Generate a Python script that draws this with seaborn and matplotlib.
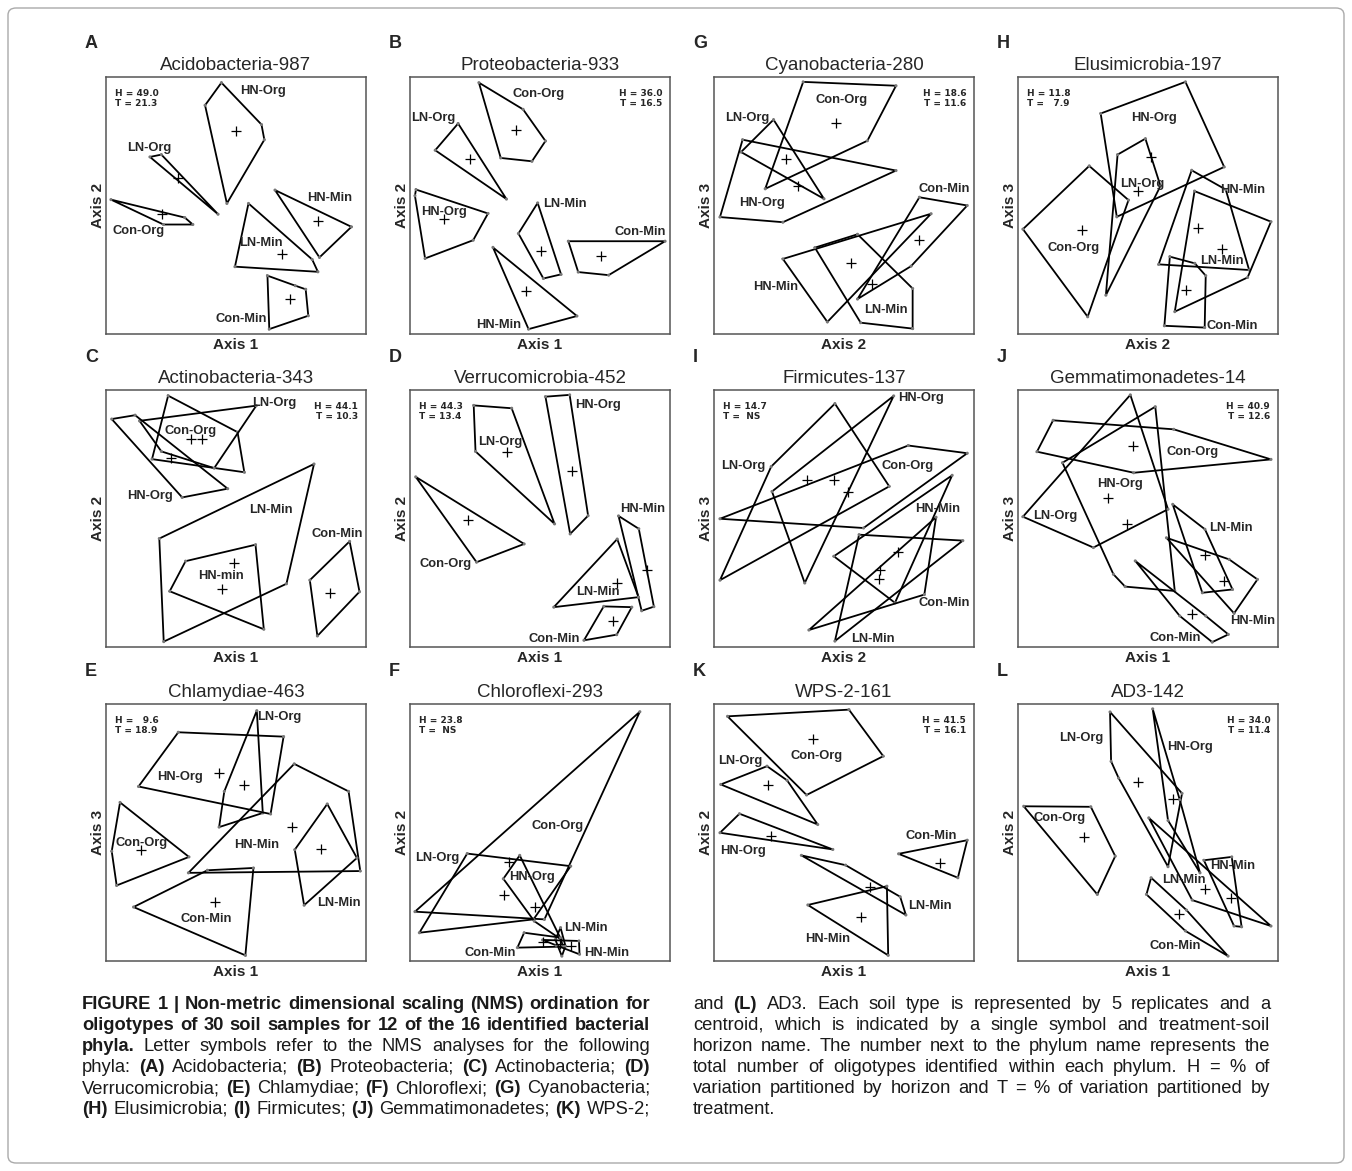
import numpy as np
import pandas as pd
import seaborn as sns
import matplotlib.pyplot as plt
from matplotlib.patches import Polygon, FancyBboxPatch

# NMS ordination hulls per treatment-soil horizon (scores rescaled to 0-100)
A_hulls = {
    "HN-Org": [(44.4, 97.8), (59.8, 81.5), (60.9, 75.6), (46.5, 50.8), (38.1, 89.0)],
    "LN-Org": [(16.9, 68.9), (21.3, 69.8), (43.1, 46.6)],
    "Con-Org": [(1.9, 52.3), (30.3, 45.3), (33.4, 42.6), (22.1, 42.6)],
    "HN-Min": [(65.0, 56.0), (94.4, 41.7), (82.1, 29.8)],
    "LN-Min": [(54.8, 50.8), (79.3, 29.0), (81.5, 24.2), (49.6, 26.2)],
    "Con-Min": [(62.1, 22.7), (72.8, 18.8), (76.8, 17.4), (77.8, 7.1), (62.8, 1.9)],
}
A_cents = [(49.9, 78.9), (27.5, 60.6), (21.5, 46.6), (81.6, 43.9), (67.8, 31.0), (70.6, 13.5)]
A_labels = {"HN-Org": (60.3, 94.4), "LN-Org": (16.5, 72.5), "Con-Org": (12.4, 39.9),
            "HN-Min": (85.9, 53.0), "LN-Min": (59.6, 35.5), "Con-Min": (52.1, 5.7)}

B_hulls = {
    "Con-Org": [(26.5, 97.8), (43.5, 87.4), (52.1, 75.1), (46.9, 67.2), (34.9, 68.5)],
    "LN-Org": [(18.5, 81.9), (9.7, 71.5), (37.1, 52.5)],
    "HN-Org": [(2.3, 56.2), (1.9, 53.8), (5.8, 29.4), (24.3, 36.5), (30.0, 46.9)],
    "LN-Min": [(49.1, 51.0), (41.7, 39.1), (51.3, 21.6), (58.1, 23.2)],
    "Con-Min": [(60.9, 36.1), (98.1, 36.1), (76.4, 22.9), (64.7, 24.1)],
    "HN-Min": [(31.9, 33.7), (64.2, 7.0), (45.6, 1.9)],
}
B_cents = [(40.6, 79.3), (23.0, 67.9), (12.9, 44.6), (50.4, 32.3), (73.4, 30.2), (44.8, 16.7)]
B_labels = {"Con-Org": (49.5, 93.3), "LN-Org": (9.0, 84.2), "HN-Org": (12.9, 47.5),
            "LN-Min": (59.4, 50.5), "Con-Min": (88.4, 39.6), "HN-Min": (34.2, 3.5)}

G_hulls = {
    "Con-Org": [(34.3, 98.1), (70.0, 96.6), (59.0, 75.2), (19.7, 56.5)],
    "LN-Org": [(22.9, 83.4), (10.4, 70.8), (42.3, 52.6)],
    "HN-Org": [(11.0, 75.6), (70.0, 63.6), (26.5, 43.5), (2.3, 45.5)],
    "Con-Min": [(79.0, 53.2), (97.4, 50.0), (75.8, 26.4), (55.2, 13.6)],
    "HN-Min": [(26.5, 29.2), (83.5, 46.8), (43.6, 4.7)],
    "LN-Min": [(38.8, 33.6), (55.2, 38.8), (76.4, 17.7), (76.4, 2.1), (56.4, 4.4)],
}
G_cents = [(46.8, 82.2), (27.7, 68.2), (32.3, 57.7), (78.7, 36.4), (52.8, 27.5), (60.7, 19.5)]
G_labels = {"Con-Org": (49.0, 90.9), "LN-Org": (12.6, 84.2), "HN-Org": (18.4, 50.9),
            "Con-Min": (88.7, 56.5), "HN-Min": (23.6, 18.4), "LN-Min": (66.1, 9.4)}

H_hulls = {
    "HN-Org": [(31.8, 85.8), (64.4, 98.1), (79.3, 65.0), (38.0, 45.6)],
    "LN-Org": [(38.3, 69.8), (49.0, 76.0), (54.8, 57.6), (33.8, 15.1)],
    "Con-Org": [(27.4, 65.4), (42.5, 52.1), (26.8, 6.7), (1.9, 40.8)],
    "HN-Min": [(66.8, 63.7), (79.9, 56.2), (88.9, 24.9), (54.1, 27.1)],
    "LN-Min": [(67.9, 55.6), (97.3, 43.7), (88.3, 22.0), (60.3, 8.7)],
    "Con-Min": [(58.4, 30.1), (68.0, 27.5), (72.2, 22.7), (71.8, 2.5), (56.3, 3.2)],
}
H_cents = [(51.3, 68.9), (46.1, 55.6), (24.7, 40.4), (69.2, 41.3), (78.4, 33.0), (64.8, 17.1)]
H_labels = {"HN-Org": (52.2, 84.2), "LN-Org": (47.7, 58.5), "Con-Org": (21.3, 33.3),
            "HN-Min": (86.5, 56.2), "LN-Min": (78.4, 28.5), "Con-Min": (82.5, 3.1)}

C_hulls = {
    "Con-Org": [(23.9, 97.8), (50.6, 83.6), (53.2, 68.0), (17.7, 73.1)],
    "LN-Org": [(12.9, 88.0), (57.8, 93.9), (41.6, 69.6), (21.3, 76.1)],
    "HN-Org": [(2.2, 88.7), (11.2, 90.2), (46.8, 61.6), (29.3, 58.2)],
    "LN-Min": [(80.0, 71.2), (69.4, 24.6), (22.2, 2.1), (20.5, 42.2)],
    "HN-min": [(30.6, 33.4), (57.5, 39.8), (60.7, 6.9), (24.5, 21.7)],
    "Con-Min": [(93.7, 41.1), (97.5, 21.5), (81.3, 4.3), (78.4, 26.0)],
}
C_cents = [(32.6, 80.9), (37.1, 80.9), (25.1, 73.5), (49.4, 32.5), (44.8, 22.6), (86.2, 21.1)]
C_labels = {"Con-Org": (32.6, 84.1), "LN-Org": (64.6, 95.0), "HN-Org": (17.1, 58.6),
            "LN-Min": (63.3, 53.3), "HN-min": (44.2, 27.8), "Con-Min": (88.8, 44.1)}

D_hulls = {
    "LN-Org": [(24.5, 94.0), (39.1, 92.9), (55.6, 47.9), (25.2, 76.1)],
    "HN-Org": [(52.1, 97.4), (61.4, 98.1), (68.5, 51.1), (61.6, 44.0)],
    "Con-Org": [(2.2, 66.2), (43.9, 40.1), (25.6, 33.0)],
    "HN-Min": [(80.2, 51.0), (88.0, 46.0), (93.8, 15.7), (89.1, 14.1)],
    "LN-Min": [(79.7, 42.0), (87.9, 19.4), (55.3, 15.5)],
    "Con-Min": [(74.5, 15.8), (85.3, 15.5), (79.5, 4.8), (66.9, 2.6)],
}
D_cents = [(37.2, 75.9), (62.3, 68.3), (22.4, 49.4), (91.1, 30.0), (79.5, 24.8), (77.9, 10.3)]
D_labels = {"LN-Org": (34.9, 79.6), "HN-Org": (72.4, 94.0), "Con-Org": (13.6, 32.3),
            "HN-Min": (89.5, 53.7), "LN-Min": (72.4, 21.3), "Con-Min": (55.6, 3.2)}

I_hulls = {
    "LN-Org": [(22.0, 70.2), (46.5, 94.7), (67.4, 62.5), (2.3, 26.0)],
    "HN-Org": [(69.1, 97.7), (22.3, 60.5), (34.9, 24.9)],
    "Con-Org": [(2.3, 49.9), (74.7, 78.4), (97.4, 75.4), (57.5, 46.3)],
    "HN-Min": [(46.1, 35.3), (91.6, 66.8), (69.6, 17.2)],
    "LN-Min": [(55.8, 43.7), (95.7, 41.4), (46.5, 2.3)],
    "Con-Min": [(85.4, 50.5), (80.9, 20.4), (36.5, 6.6)],
}
I_cents = [(35.8, 64.8), (46.1, 64.8), (51.7, 60.5), (70.9, 37.0), (63.8, 30.1), (63.5, 26.5)]
I_labels = {"HN-Org": (79.6, 96.8), "LN-Org": (11.3, 70.6), "Con-Org": (74.5, 70.6),
            "HN-Min": (86.1, 53.7), "Con-Min": (88.7, 17.2), "LN-Min": (61.0, 3.0)}

J_hulls = {
    "Con-Org": [(13.5, 88.2), (59.9, 84.7), (97.3, 73.0), (44.5, 67.8), (7.3, 76.0)],
    "HN-Org": [(17.1, 71.7), (52.8, 93.5), (60.3, 21.8), (41.2, 23.5), (36.7, 28.3)],
    "LN-Org": [(1.9, 50.7), (43.2, 98.1), (57.7, 53.6), (29.0, 38.7)],
    "LN-Min": [(59.5, 55.5), (71.9, 45.8), (82.5, 22.4), (70.9, 21.1)],
    "HN-Min": [(57.1, 42.5), (81.2, 34.1), (92.1, 26.3), (83.1, 13.1)],
    "Con-Min": [(45.1, 33.5), (72.2, 12.1), (80.9, 4.9), (74.7, 1.9), (62.2, 12.1)],
}
J_cents = [(44.2, 78.1), (34.5, 57.8), (41.9, 47.7), (79.3, 25.6), (71.9, 35.7), (67.0, 13.0)]
J_labels = {"Con-Org": (67.0, 76.0), "HN-Org": (39.3, 63.6), "LN-Org": (14.2, 51.0),
            "LN-Min": (81.8, 46.4), "HN-Min": (90.3, 10.0), "Con-Min": (60.6, 3.4)}

E_hulls = {
    "LN-Org": [(58.0, 97.4), (60.3, 57.6), (43.5, 52.1), (45.5, 66.0)],
    "HN-Org": [(27.8, 89.0), (68.3, 87.3), (63.3, 57.2), (12.5, 67.9)],
    "HN-Min": [(72.4, 76.7), (93.3, 66.0), (97.8, 35.0), (31.7, 34.3)],
    "LN-Min": [(85.1, 61.1), (96.5, 40.1), (76.2, 21.7), (72.6, 43.3)],
    "Con-Org": [(5.4, 61.7), (31.9, 40.5), (4.1, 29.4), (2.2, 42.7)],
    "Con-Min": [(10.6, 21.0), (39.0, 35.3), (56.7, 36.2), (53.6, 2.2)],
}
E_cents = [(43.3, 73.0), (53.0, 68.6), (71.7, 52.3), (82.7, 43.5), (13.6, 43.3), (42.0, 23.0)]
E_labels = {"LN-Org": (66.8, 94.8), "HN-Org": (28.4, 71.5), "HN-Min": (57.8, 45.0),
            "LN-Min": (89.4, 22.6), "Con-Org": (13.8, 45.9), "Con-Min": (38.4, 16.4)}

F_hulls = {
    "Con-Org": [(88.4, 97.0), (1.9, 19.2), (51.7, 16.2)],
    "LN-Org": [(22.0, 41.8), (61.8, 36.9), (47.5, 16.2), (3.6, 11.0)],
    "HN-Org": [(42.2, 41.1), (58.1, 8.4), (47.8, 15.5), (35.9, 32.0)],
    "LN-Min": [(57.9, 13.0), (59.8, 5.8), (58.4, 1.9), (55.9, 8.3)],
    "Con-Min": [(43.9, 11.0), (57.9, 9.1), (58.8, 5.6), (41.3, 5.2)],
    "HN-Min": [(51.0, 8.2), (65.0, 7.8), (65.2, 2.6), (56.2, 6.1)],
}
F_cents = [(37.9, 38.5), (36.2, 25.6), (48.2, 21.1), (51.0, 7.5), (57.8, 6.8), (61.8, 5.7)]
F_labels = {"Con-Org": (56.8, 52.5), "LN-Org": (10.3, 39.9), "HN-Org": (47.1, 32.8),
            "LN-Min": (67.8, 13.0), "Con-Min": (31.0, 3.2), "HN-Min": (75.6, 3.0)}

K_hulls = {
    "Con-Org": [(5.2, 95.2), (51.9, 97.8), (65.1, 79.7), (35.6, 64.6)],
    "LN-Org": [(20.4, 75.8), (28.1, 70.3), (39.9, 53.1), (2.6, 68.7)],
    "HN-Org": [(9.8, 57.3), (45.7, 43.4), (2.3, 49.9)],
    "Con-Min": [(71.0, 41.7), (97.4, 47.0), (93.8, 32.4)],
    "LN-Min": [(33.6, 41.1), (50.6, 37.3), (71.6, 25.0), (73.8, 17.9)],
    "HN-Min": [(36.1, 21.8), (66.5, 29.1), (67.0, 2.2)],
}
K_cents = [(38.1, 86.5), (20.6, 68.3), (22.0, 48.8), (87.1, 38.2), (59.9, 28.8), (56.4, 17.1)]
K_labels = {"Con-Org": (39.4, 79.7), "LN-Org": (10.1, 77.7), "HN-Org": (11.3, 42.7),
            "Con-Min": (83.5, 48.7), "LN-Min": (83.2, 21.4), "HN-Min": (43.6, 8.4)}

L_hulls = {
    "LN-Org": [(35.4, 96.9), (63.1, 65.2), (57.7, 36.7), (38.7, 71.2), (35.8, 77.7)],
    "HN-Org": [(51.8, 98.1), (62.2, 62.8), (70.0, 34.3), (57.7, 54.7)],
    "Con-Org": [(2.2, 60.2), (28.0, 60.0), (37.4, 40.8), (30.5, 25.9)],
    "HN-Min": [(71.5, 39.2), (82.2, 40.5), (86.0, 13.3), (83.1, 13.6)],
    "LN-Min": [(50.3, 55.7), (97.3, 13.6), (67.0, 23.7)],
    "Con-Min": [(51.2, 32.4), (64.8, 19.8), (80.8, 1.9), (64.4, 11.7), (49.4, 25.9)],
}
L_cents = [(46.1, 69.7), (59.5, 63.2), (25.5, 48.2), (81.8, 24.6), (71.8, 27.9), (62.1, 18.1)]
L_labels = {"LN-Org": (24.5, 86.9), "HN-Org": (66.3, 83.2), "Con-Org": (16.1, 55.8),
            "HN-Min": (82.5, 36.8), "LN-Min": (63.7, 31.6), "Con-Min": (60.6, 5.8)}

letters = ["A", "B", "G", "H", "C", "D", "I", "J", "E", "F", "K", "L"]
titles = ["Acidobacteria-987", "Proteobacteria-933", "Cyanobacteria-280", "Elusimicrobia-197",
          "Actinobacteria-343", "Verrucomicrobia-452", "Firmicutes-137", "Gemmatimonadetes-14",
          "Chlamydiae-463", "Chloroflexi-293", "WPS-2-161", "AD3-142"]
xlabels = ["Axis 1", "Axis 1", "Axis 2", "Axis 2", "Axis 1", "Axis 1", "Axis 2", "Axis 1",
           "Axis 1", "Axis 1", "Axis 1", "Axis 1"]
ylabels = ["Axis 2", "Axis 2", "Axis 3", "Axis 3", "Axis 2", "Axis 2", "Axis 3", "Axis 3",
           "Axis 3", "Axis 2", "Axis 2", "Axis 2"]
h_vals = ["49.0", "36.0", "18.6", "11.8", "44.1", "44.3", "14.7", "40.9", "  9.6", "23.8", "41.5", "34.0"]
t_vals = ["21.3", "16.5", "11.6", "  7.9", "10.3", "13.4", " NS", "12.6", "18.9", " NS", "16.1", "11.4"]
stat_side = ["left", "right", "right", "left", "right", "left", "left", "right",
             "left", "left", "right", "right"]
hulls = [A_hulls, B_hulls, G_hulls, H_hulls, C_hulls, D_hulls, I_hulls, J_hulls,
         E_hulls, F_hulls, K_hulls, L_hulls]
cents = [A_cents, B_cents, G_cents, H_cents, C_cents, D_cents, I_cents, J_cents,
         E_cents, F_cents, K_cents, L_cents]
labels = [A_labels, B_labels, G_labels, H_labels, C_labels, D_labels, I_labels, J_labels,
          E_labels, F_labels, K_labels, L_labels]

caption_left = [
    [("FIGURE 1 | Non-metric dimensional scaling (NMS) ordination for", True)],
    [("oligotypes of 30 soil samples for 12 of the 16 identified bacterial", True)],
    [("phyla.", True), ("Letter symbols refer to the NMS analyses for the following", False)],
    [("phyla:", False), ("(A)", True), ("Acidobacteria;", False), ("(B)", True), ("Proteobacteria;", False),
     ("(C)", True), ("Actinobacteria;", False), ("(D)", True)],
    [("Verrucomicrobia;", False), ("(E)", True), ("Chlamydiae;", False), ("(F)", True), ("Chloroflexi;", False),
     ("(G)", True), ("Cyanobacteria;", False)],
    [("(H)", True), ("Elusimicrobia;", False), ("(I)", True), ("Firmicutes;", False), ("(J)", True),
     ("Gemmatimonadetes;", False), ("(K)", True), ("WPS-2;", False)],
]
caption_right = [
    [("and", False), ("(L)", True), ("AD3. Each soil type is represented by 5 replicates and a", False)],
    [("centroid, which is indicated by a single symbol and treatment-soil", False)],
    [("horizon name. The number next to the phylum name represents the", False)],
    [("total number of oligotypes identified within each phylum. H = % of", False)],
    [("variation partitioned by horizon and T = % of variation partitioned by", False)],
    [("treatment.", False)],
]

sns.set_style("white")
plt.rcParams["font.family"] = ["Liberation Sans", "DejaVu Sans"]

W, H = 1352, 1171
fig = plt.figure(figsize=(W / 100, H / 100), dpi=100)
col_left = [106, 410, 714, 1018]
row_top = [77, 390, 704]
bw, bh = 260, 257

for i in range(12):
    r, c = divmod(i, 4)
    x0, y0 = col_left[c], row_top[r]
    ax = fig.add_axes([x0 / W, 1 - (y0 + bh) / H, bw / W, bh / H])

    for name, verts in hulls[i].items():
        ax.add_patch(Polygon(verts, closed=True, fill=False, edgecolor="black", lw=1.3))
        pts = pd.DataFrame(verts, columns=["x", "y"])
        sns.scatterplot(data=pts, x="x", y="y", ax=ax, s=5, color="#777777", edgecolor="none", legend=False)
    cdf = pd.DataFrame(cents[i], columns=["x", "y"])
    sns.scatterplot(data=cdf, x="x", y="y", ax=ax, marker="+", s=45, color="black", linewidth=0.9, legend=False)
    for name, (lx, ly) in labels[i].items():
        ax.text(lx, ly, name, ha="center", va="center", fontsize=9.3, fontweight="bold")

    ax.set_xlim(0, 100)
    ax.set_ylim(0, 100)
    ax.set_xticks([])
    ax.set_yticks([])
    for s in ax.spines.values():
        s.set_edgecolor("#555555")
        s.set_linewidth(1.1)

    stat = f"H = {h_vals[i]}\nT = {t_vals[i]}"
    if stat_side[i] == "left":
        ax.text(0.035, 0.955, stat, transform=ax.transAxes, ha="left", va="top",
                fontsize=6.5, fontweight="bold", family="DejaVu Sans", linespacing=1.2)
    else:
        ax.text(0.97, 0.955, stat, transform=ax.transAxes, ha="right", va="top",
                fontsize=6.5, fontweight="bold", family="DejaVu Sans", linespacing=1.2,
                multialignment="right")

    ax.set_xlabel(xlabels[i], fontsize=11, fontweight="bold", labelpad=3, visible=True)
    ax.set_ylabel(ylabels[i], fontsize=11, fontweight="bold", labelpad=1, visible=True)
    ax.set_title(titles[i], fontsize=13.5, pad=5)
    fig.text((x0 - 21) / W, 1 - (y0 - 33) / H, letters[i], fontsize=13, fontweight="bold",
             ha="left", va="center")

# caption, justified like the journal layout
renderer = fig.canvas.get_renderer()


def split_words(runs):
    words = []
    for txt, bold in runs:
        for w in txt.split():
            words.append((w, bold))
    return words


def text_width(s, size, bold):
    t = fig.text(0, 0, s, fontsize=size, fontweight="bold" if bold else "normal")
    wd = t.get_window_extent(renderer).width
    t.remove()
    return wd


def natural_width(lines, size):
    sp = text_width("a a", size, False) - text_width("aa", size, False)
    best = 0
    for runs in lines:
        words = split_words(runs)
        total = sum(text_width(w, size, b) for w, b in words) + sp * (len(words) - 1)
        best = max(best, total)
    return best


def draw_caption(lines, x_start, x_end, y_first, step, size):
    sp = text_width("a a", size, False) - text_width("aa", size, False)
    for li, runs in enumerate(lines):
        words = split_words(runs)
        arts, widths = [], []
        y = 1 - (y_first + li * step) / H
        for w, bold in words:
            t = fig.text(0, y, w, fontsize=size, fontweight="bold" if bold else "normal",
                         ha="left", va="baseline", color="#1a1a1a")
            arts.append(t)
            widths.append(t.get_window_extent(renderer).width)
        last = li == len(lines) - 1 and len(words) == 1
        if len(words) > 1 and not last:
            gap = (x_end - x_start - sum(widths)) / (len(words) - 1)
        else:
            gap = sp
        x = x_start
        for t, wd in zip(arts, widths):
            t.set_x(x / W)
            x += wd + gap


base = 10.0
fit_l = (650 - 82) * 0.995 / natural_width(caption_left, base)
fit_r = (1270 - 693) * 0.995 / natural_width(caption_right, base)
cap_size = base * min(fit_l, fit_r)
draw_caption(caption_left, 82, 650, 1009, 21, cap_size)
draw_caption(caption_right, 693, 1270, 1009, 21, cap_size)

border = FancyBboxPatch((8 / W, 8 / H), 1 - 16 / W, 1 - 16 / H, boxstyle="round,pad=0,rounding_size=0.006",
                        transform=fig.transFigure, fill=False, edgecolor="#aaaaaa", lw=1.0)
fig.patches.append(border)

fig.savefig("out.png", dpi=100)
